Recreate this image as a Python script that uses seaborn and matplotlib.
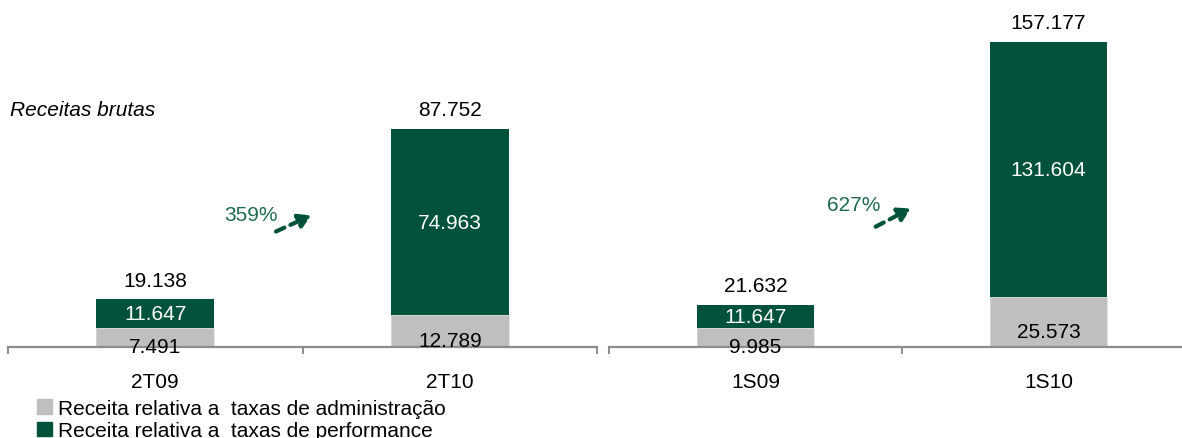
import matplotlib
matplotlib.use("Agg")
import matplotlib.pyplot as plt
import matplotlib.patches as mpatches
import seaborn as sns
import pandas as pd

# ---- data ----
cats_q = ["2T09", "2T10"]
admin_q = [7.491, 12.789]
perf_q = [11.647, 74.963]
total_q = [19.138, 87.752]
growth_q = "359%"

cats_s = ["1S09", "1S10"]
admin_s = [9.985, 25.573]
perf_s = [11.647, 131.604]
total_s = [21.632, 157.177]
growth_s = "627%"

legend_labels = ["Receita relativa a  taxas de administração",
                 "Receita relativa a  taxas de performance"]
title_text = "Receitas brutas"

GREEN = "#00533A"
GRAY = "#BFBFBF"
PCT = "#1E6B4B"
AXC = "#8C8C8C"
FS = 15

sns.set_theme(style="white")
plt.rcParams["font.family"] = ["Liberation Sans", "DejaVu Sans"]
plt.rcParams["text.color"] = "black"

W, H = 1182, 439
fig = plt.figure(figsize=(W / 100, H / 100), dpi=100)

def fmt(v):
    return f"{v:.3f}"

def panel(rect, cats, admin, perf, total, ymax, growth, arrow_xy, text_xy):
    ax = fig.add_axes(rect)
    df = pd.DataFrame({"cat": cats, "admin": admin, "perf": perf, "total": total})
    sns.barplot(data=df, x="cat", y="total", color=GREEN, width=0.4,
                saturation=1, ax=ax, edgecolor=GREEN, linewidth=0)
    sns.barplot(data=df, x="cat", y="admin", color=GRAY, width=0.4,
                saturation=1, ax=ax, edgecolor="#E6E6E6", linewidth=0.6)
    ax.set_xlim(-0.5, 1.5)
    ax.set_ylim(0, ymax)
    ax.set_xlabel("")
    ax.set_ylabel("")
    ax.set_yticks([])
    for s in ["top", "left", "right"]:
        ax.spines[s].set_visible(False)
    ax.spines["bottom"].set_color(AXC)
    ax.spines["bottom"].set_linewidth(1.6)
    ax.spines["bottom"].set_zorder(5)
    ax.set_xticks([0, 1])
    ax.set_xticklabels(cats, fontsize=FS, color="black")
    ax.set_xticks([-0.5, 0.5, 1.5], minor=True)
    ax.tick_params(axis="x", which="major", length=0, pad=18)
    ax.tick_params(axis="x", which="minor", length=5, width=1.4,
                   color=AXC, direction="out", bottom=True)
    ax.patch.set_alpha(0)
    for i in range(len(cats)):
        ax.annotate(fmt(total[i]), (i, total[i]), xytext=(0, 14),
                    textcoords="offset points", ha="center", va="center",
                    fontsize=FS, color="black")
        ax.text(i, admin[i] + perf[i] / 2, fmt(perf[i]), ha="center",
                va="center", fontsize=FS, color="white")
        ax.annotate(fmt(admin[i]), (i, admin[i] / 2), xytext=(0, -6.5),
                    textcoords="offset points", ha="center", va="center",
                    fontsize=FS, color="black", zorder=6)
    ax.annotate("", xy=arrow_xy[1], xytext=arrow_xy[0],
                arrowprops=dict(arrowstyle="-|>,head_length=0.6,head_width=0.35",
                                color=GREEN, lw=3,
                                linestyle=(0, (2.2, 1.6)),
                                shrinkA=0, shrinkB=0))
    ax.text(text_xy[0], text_xy[1], growth, ha="center", va="center",
            fontsize=FS, color=PCT)
    return ax

bottom = (H - 348) / H
height = 348 / H
panel([8 / W, bottom, (597 - 8) / W, height], cats_q, admin_q, perf_q,
      total_q, 140.1, growth_q, [(0.41, 46.5), (0.53, 53.0)], (0.325, 53.5))
panel([609 / W, bottom, (1195 - 609) / W, height], cats_s, admin_s, perf_s,
      total_s, 179.4, growth_s, [(0.41, 62.0), (0.53, 71.5)], (0.336, 73.7))

fig.text(10 / W, 1 - 110 / H, title_text, fontsize=FS, style="italic",
         ha="left", va="center", color="black")

handles = [mpatches.Patch(color=GRAY, label=legend_labels[0]),
           mpatches.Patch(color=GREEN, label=legend_labels[1])]
fig.legend(handles=handles, loc="upper left",
           bbox_to_anchor=(37 / W, 1 - 400 / H), frameon=False,
           fontsize=FS, handlelength=0.7, handleheight=0.7,
           handletextpad=0.3, labelspacing=0.15, borderpad=0,
           borderaxespad=0, labelcolor="black")

fig.savefig("out.png", dpi=100)
